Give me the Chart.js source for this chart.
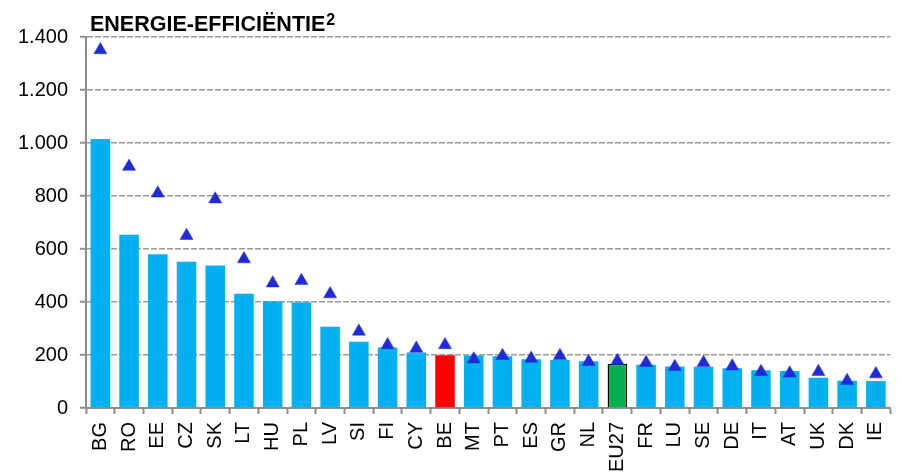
<!DOCTYPE html>
<html>
<head>
<meta charset="utf-8">
<script src="https://cdn.jsdelivr.net/npm/chart.js@4.4.1/dist/chart.umd.min.js"></script>
<style>
    html, body { margin: 0; padding: 0; overflow: hidden; background: #fff; }
    #wrap { position: absolute; left: 0; top: 0; width: 908px; height: 473px; }
</style>
</head>
<body>
<div id="wrap"><canvas id="grafico" width="908" height="473"></canvas></div>
<script>
// landen (gesorteerd zoals in de grafiek)
const landen = ['BG', 'RO', 'EE', 'CZ', 'SK', 'LT', 'HU', 'PL', 'LV', 'SI', 'FI', 'CY', 'BE', 'MT',
    'PT', 'ES', 'GR', 'NL', 'EU27', 'FR', 'LU', 'SE', 'DE', 'IT', 'AT', 'UK', 'DK', 'IE'];

// staven
const waardenStaaf = [1015, 654, 580, 552, 538, 431, 402, 399, 307, 250, 228, 209, 199, 198,
    195, 184, 181, 176, 167, 163, 157, 156, 150, 142, 140, 114, 103, 102];

// driehoekjes
const waardenDriehoek = [1351, 911, 810, 650, 788, 562, 471, 480, 430, 289, 238, 225, 238, 184,
    197, 187, 197, 175, 178, 171, 156, 171, 158, 137, 131, 137, 103, 128];

const yTicks = [0, 200, 400, 600, 800, 1000, 1200, 1400];

const font = 'Liberation Sans, Arial, sans-serif';

const kleurStaaf = landen.map(function (l) {
    if (l === 'BE') return '#ff0000';
    if (l === 'EU27') return '#00b050';
    return '#00b0f0';
});
const randBreedte = landen.map(function (l) {
    return l === 'EU27' ? 1.5 : 0;
});

const titelPlugin = {
    id: 'titel',
    afterDraw: function (chart) {
        const ctx = chart.ctx;
        ctx.save();
        ctx.fillStyle = '#000';
        ctx.textBaseline = 'alphabetic';
        ctx.font = 'bold 21.5px ' + font;
        const tekst = 'ENERGIE-EFFICIËNTIE';
        ctx.fillText(tekst, 90, 31);
        const w = ctx.measureText(tekst).width;
        ctx.font = 'bold 16px ' + font;
        ctx.fillText('2', 90 + w + 1, 25);
        ctx.restore();
    }
};

new Chart(document.getElementById('grafico'), {
    type: 'bar',
    data: {
        labels: landen,
        datasets: [{
            type: 'line',
            data: waardenDriehoek,
            showLine: false,
            pointStyle: 'triangle',
            pointRadius: 7.5,
            pointHoverRadius: 7.5,
            pointBackgroundColor: '#1f2bd6',
            pointBorderColor: '#1f2bd6',
            pointBorderWidth: 0.5,
            order: 0
        }, {
            data: waardenStaaf,
            backgroundColor: kleurStaaf,
            borderColor: '#000000',
            borderWidth: randBreedte,
            categoryPercentage: 1,
            barPercentage: 0.68,
            order: 1
        }]
    },
    options: {
        responsive: false,
        animation: false,
        layout: { padding: { top: 37, right: 2, left: 0, bottom: 0 } },
        plugins: {
            legend: { display: false },
            tooltip: { enabled: false }
        },
        scales: {
            x: {
                afterFit: function (s) { s.height = 65; },
                grid: {
                    drawOnChartArea: false,
                    drawTicks: true,
                    tickLength: 6,
                    tickColor: '#8c8c8c',
                    tickWidth: 2,
                    offset: true
                },
                border: { display: true, color: '#8c8c8c', width: 2 },
                ticks: {
                    color: '#000',
                    font: { family: font, size: 20 },
                    maxRotation: 90,
                    minRotation: 90,
                    padding: 8,
                    autoSkip: false
                }
            },
            y: {
                min: 0,
                max: 1400,
                afterFit: function (s) { s.width = 86; },
                afterBuildTicks: function (s) {
                    s.ticks = yTicks.map(function (v) { return { value: v }; });
                },
                grid: {
                    color: function (c) { return c.tick && c.tick.value === 0 ? 'rgba(0,0,0,0)' : '#999999'; },
                    lineWidth: 1.5,
                    tickLength: 6,
                    tickColor: '#8c8c8c',
                    tickWidth: 2
                },
                border: { display: true, color: '#8c8c8c', width: 2, dash: [6, 2] },
                ticks: {
                    color: '#000',
                    font: { family: font, size: 20 },
                    padding: 12,
                    callback: function (v) { return v.toLocaleString('nl-NL'); }
                }
            }
        }
    },
    plugins: [titelPlugin]
});
</script>
</body>
</html>
